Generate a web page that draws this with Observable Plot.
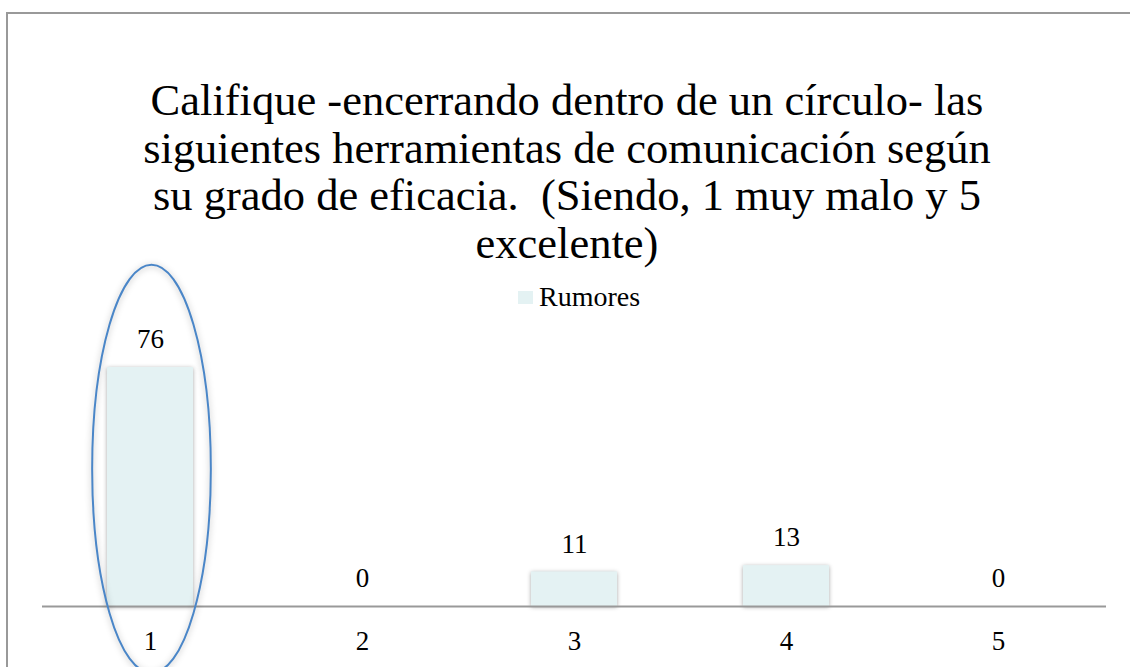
<!DOCTYPE html>
<html>
<head>
<meta charset="utf-8">
<script src="https://cdn.jsdelivr.net/npm/d3@7"></script>
<script src="https://cdn.jsdelivr.net/npm/@observablehq/plot@0.6"></script>
<style>
  html, body { margin: 0; padding: 0; background: #fff; }
  #wrap { position: relative; width: 1130px; height: 667px; overflow: hidden; font-family: "Liberation Serif", "DejaVu Serif", serif; }
  #frame { position: absolute; left: 6px; top: 12px; width: 1140px; height: 700px; border-top: 2px solid #999; border-left: 2px solid #999; box-sizing: border-box; }
  #title { position: absolute; left: 7px; width: 1120px; top: 77px; text-align: center; font-size: 44.5px; line-height: 47.5px; color: #000; white-space: nowrap; }
  #legend { position: absolute; left: 518px; top: 280px; font-size: 28px; line-height: 34px; color: #000; display: flex; align-items: center; }
  #legend .sw { width: 15px; height: 13px; background: #E4F2F3; margin-right: 6px; }
  #chart { position: absolute; left: 0; top: 0; }
</style>
</head>
<body>
<div id="wrap">
  <div id="frame"></div>
  <div id="chart"></div>
  <div id="title"></div>
  <div id="legend"><div class="sw"></div><span id="legendLabel"></span></div>
</div>
<script>
const titleLines = [
  "Califique -encerrando dentro de un círculo- las",
  "siguientes herramientas de comunicación según",
  "su grado de eficacia.\u00a0 (Siendo, 1 muy malo y 5",
  "excelente)"
];
const seriesName = "Rumores";
const categories = ["1", "2", "3", "4", "5"];
const values = [76, 0, 11, 13, 0];
const highlighted = "1";

const data = categories.map((c, i) => ({cat: c, value: values[i]}));

document.getElementById("title").innerHTML = titleLines.join("<br>");
document.getElementById("legendLabel").textContent = seriesName;

const barColor = "#E4F2F3";

const plot = Plot.plot({
  width: 1130,
  height: 667,
  marginLeft: 42,
  marginRight: 24,
  marginTop: 291.5,
  marginBottom: 61,
  style: {background: "transparent", fontFamily: "Liberation Serif, DejaVu Serif, serif", overflow: "visible"},
  x: {domain: categories, paddingInner: 0.596, paddingOuter: 0.298, label: null},
  y: {domain: [0, 100], axis: null},
  marks: [
    Plot.barY(data, {x: "cat", y: "value", fill: barColor, className: "bars"}),
    Plot.ruleY([0], {stroke: "#999", strokeWidth: 2}),
    Plot.text(data, {x: "cat", y: "value", text: d => String(d.value), dy: -28, fontSize: 27, fill: "#000"}),
    Plot.axisX({tickSize: 0, tickPadding: 24, fontSize: 27, color: "#000", label: null})
  ]
});

// soft shadow on bars
plot.querySelectorAll(".bars rect").forEach(r => {
  r.style.filter = "drop-shadow(0px 1px 2px rgba(0,0,0,0.35))";
});

// ellipse annotation around the highlighted category, positioned via the plot's scales
const xs = plot.scale("x");
const ys = plot.scale("y");
const cx = xs.apply(highlighted) + xs.bandwidth / 2;
const yTop = ys.apply(108.5);
const yBot = ys.apply(-21.3);
const svgNS = "http://www.w3.org/2000/svg";
const ell = document.createElementNS(svgNS, "ellipse");
ell.setAttribute("cx", cx + 1.5);
ell.setAttribute("cy", (yTop + yBot) / 2);
ell.setAttribute("rx", xs.bandwidth * 0.69);
ell.setAttribute("ry", (yBot - yTop) / 2);
ell.setAttribute("fill", "none");
ell.setAttribute("stroke", "#4A86C8");
ell.setAttribute("stroke-width", 2);
ell.style.filter = "drop-shadow(0px 1px 3px rgba(0,0,0,0.3))";
plot.appendChild(ell);

document.getElementById("chart").appendChild(plot);
</script>
</body>
</html>
